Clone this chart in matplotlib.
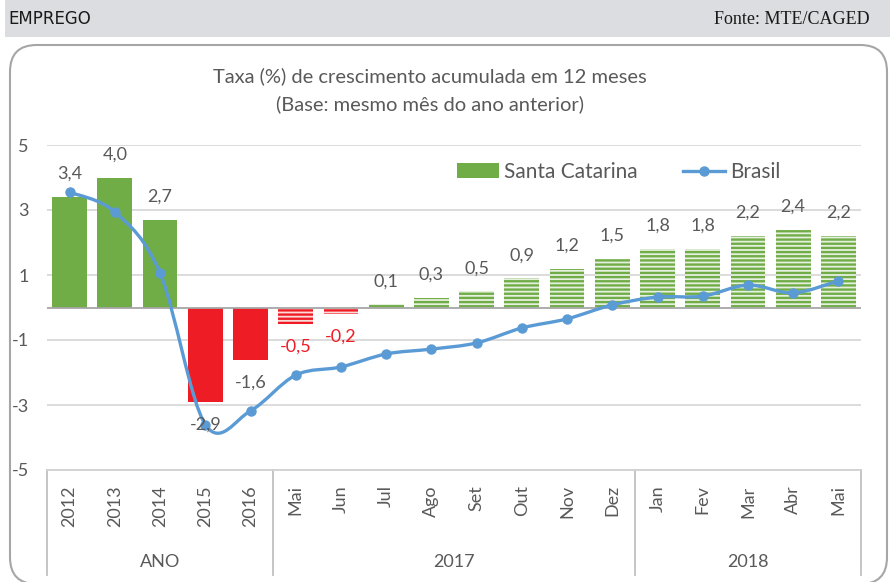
"""Taxa de crescimento acumulada em 12 meses - emprego SC x Brasil."""

import matplotlib
matplotlib.use("Agg")
import matplotlib.pyplot as plt
import matplotlib.path as mpath
import matplotlib.patches as mpatches
import matplotlib.transforms as mtransforms
from matplotlib.lines import Line2D
import numpy as np

plt.rcParams['font.family'] = ['Lato', 'DejaVu Sans']
plt.rcParams['hatch.linewidth'] = 1.7

# dados
categorias = ["2012", "2013", "2014", "2015", "2016",
              "Mai", "Jun", "Jul", "Ago", "Set", "Out", "Nov", "Dez",
              "Jan", "Fev", "Mar", "Abr", "Mai"]
santa_catarina = [3.4, 4.0, 2.7, -2.9, -1.6,
                  -0.5, -0.2, 0.1, 0.3, 0.5, 0.9, 1.2, 1.5,
                  1.8, 1.8, 2.2, 2.4, 2.2]
brasil = [3.55, 2.94, 1.06, -3.6, -3.18,
          -2.08, -1.83, -1.43, -1.28, -1.09, -0.63, -0.35, 0.08,
          0.32, 0.35, 0.69, 0.45, 0.82]
grupos = ["ANO", "2017", "2018"]
grupo_tamanhos = [5, 8, 5]
num_anuais = 5

VERDE = "#70AD47"
VERMELHO = "#EE1C25"
AZUL = "#5B9BD5"
CINZA_TXT = "#595959"

fig = plt.figure(figsize=(8.9, 5.82), dpi=100)
W, H = 890, 582

# faixa de cabecalho
fig.patches.append(mpatches.Rectangle((5 / W, 1 - 37 / H), 885 / W, 37 / H,
                                      transform=fig.transFigure,
                                      facecolor="#dcdde0", edgecolor="none", zorder=0))
fig.text(8 / W, 1 - 19 / H, "EMPREGO", fontsize=12, color="#1a1a1a",
         family=["Liberation Sans Narrow", "DejaVu Sans"], va="center", ha="left")
fig.text(870 / W, 1 - 19 / H, "Fonte: MTE/CAGED", fontsize=13, color="#1a1a1a",
         family=["Liberation Serif"], va="center", ha="right")

# moldura arredondada
fig.patches.append(mpatches.FancyBboxPatch((10 / W, -2 / H), 877 / W, (H - 45 + 2) / H,
                                           boxstyle="round,pad=0,rounding_size=0.03",
                                           transform=fig.transFigure, mutation_aspect=W / H,
                                           facecolor="none", edgecolor="#a6a6a6",
                                           linewidth=1.5, zorder=1))

ax = fig.add_axes([47 / W, 1 - 470 / H, (861 - 47) / W, (470 - 145) / H])

x = np.arange(len(categorias))
n = len(x)

# barras
for i, v in enumerate(santa_catarina):
    cor = VERDE if v >= 0 else VERMELHO
    if i < num_anuais:
        ax.bar(x[i], v, width=0.77, color=cor, edgecolor="none", zorder=2)
    else:
        ax.bar(x[i], v, width=0.77, facecolor="#e6f0de" if v >= 0 else "#fbdcdc",
               edgecolor=cor, linewidth=0, hatch="----", zorder=2)

# rotulos das barras
for i, v in enumerate(santa_catarina):
    cor = VERMELHO if (v < 0 and i >= num_anuais) else CINZA_TXT
    off = 16.5 if v >= 0 else -16.5
    ax.annotate(f"{v:.1f}".replace(".", ","), (x[i], v), xytext=(0, off),
                textcoords="offset points", ha="center", va="center",
                fontsize=13, color=cor, zorder=6)

# linha suavizada do Brasil (curva de Bezier pelos pontos)
pts = np.column_stack([x, brasil]).astype(float)
verts = [pts[0]]
codes = [mpath.Path.MOVETO]
for i in range(n - 1):
    p_prev = pts[max(i - 1, 0)]
    p_next2 = pts[min(i + 2, n - 1)]
    c1 = pts[i] + (pts[i + 1] - p_prev) / 6
    c2 = pts[i + 1] - (p_next2 - pts[i]) / 6
    verts += [c1, c2, pts[i + 1]]
    codes += [mpath.Path.CURVE4] * 3
curva = mpatches.PathPatch(mpath.Path(verts, codes), facecolor="none",
                           edgecolor=AZUL, linewidth=2.4, zorder=4, capstyle="round")
ax.add_patch(curva)
ax.plot(x, brasil, linestyle="none", marker="o", markersize=6.5, color=AZUL, zorder=5)

# eixos
ax.set_xlim(-0.5, n - 0.5)
ax.set_ylim(-5, 5)
ax.set_yticks([-5, -3, -1, 1, 3, 5])
ax.set_yticklabels(["-5", "-3", "-1", "1", "3", "5"])
for yv in [-3, -1, 1, 3, 5]:
    ax.axhline(yv, color="#d9d9d9", linewidth=1.3, zorder=1)
ax.axhline(0, color="#a6a6a6", linewidth=1.3, zorder=3)
for s in ["top", "left", "right"]:
    ax.spines[s].set_visible(False)
ax.spines["bottom"].set_color("#d0d0d0")
ax.spines["bottom"].set_linewidth(1.3)
ax.tick_params(axis="y", length=0, pad=13, labelsize=13, labelcolor=CINZA_TXT)
ax.set_xticks(x)
ax.set_xticklabels(categorias, rotation=90)
ax.tick_params(axis="x", length=0, pad=11, labelsize=13, labelcolor=CINZA_TXT)

# separadores e nomes dos grupos
trans = mtransforms.blended_transform_factory(ax.transData, ax.transAxes)
inicio = -0.5
for nome, tam in zip(grupos, grupo_tamanhos):
    ax.plot([inicio, inicio], [0, -0.323], transform=trans, color="#c0c0c0",
            linewidth=1.3, clip_on=False)
    ax.text(inicio + tam / 2, -0.283, nome, transform=trans, ha="center", va="center",
            fontsize=13, color=CINZA_TXT)
    inicio += tam
ax.plot([inicio, inicio], [0, -0.323], transform=trans, color="#c0c0c0",
        linewidth=1.3, clip_on=False)

# titulo
fig.text(430 / W, 1 - 76 / H, "Taxa (%) de crescimento acumulada em 12 meses",
         ha="center", va="center", fontsize=14.5, color=CINZA_TXT)
fig.text(430 / W, 1 - 104 / H, "(Base: mesmo mês do ano anterior)",
         ha="center", va="center", fontsize=14.5, color=CINZA_TXT)

# legenda
handles = [mpatches.Patch(facecolor=VERDE, edgecolor="none"),
           Line2D([], [], color=AZUL, linewidth=2.4, marker="o", markersize=6.5)]
ax.legend(handles, ["Santa Catarina", "Brasil"], ncol=2, frameon=False,
          loc="center left", bbox_to_anchor=(457 / W, 1 - 172 / H),
          bbox_transform=fig.transFigure, borderpad=0, borderaxespad=0,
          fontsize=15, labelcolor=CINZA_TXT, handlelength=2.0, handleheight=0.7,
          handletextpad=0.25, columnspacing=2.2)

fig.savefig("out.png", dpi=100)
